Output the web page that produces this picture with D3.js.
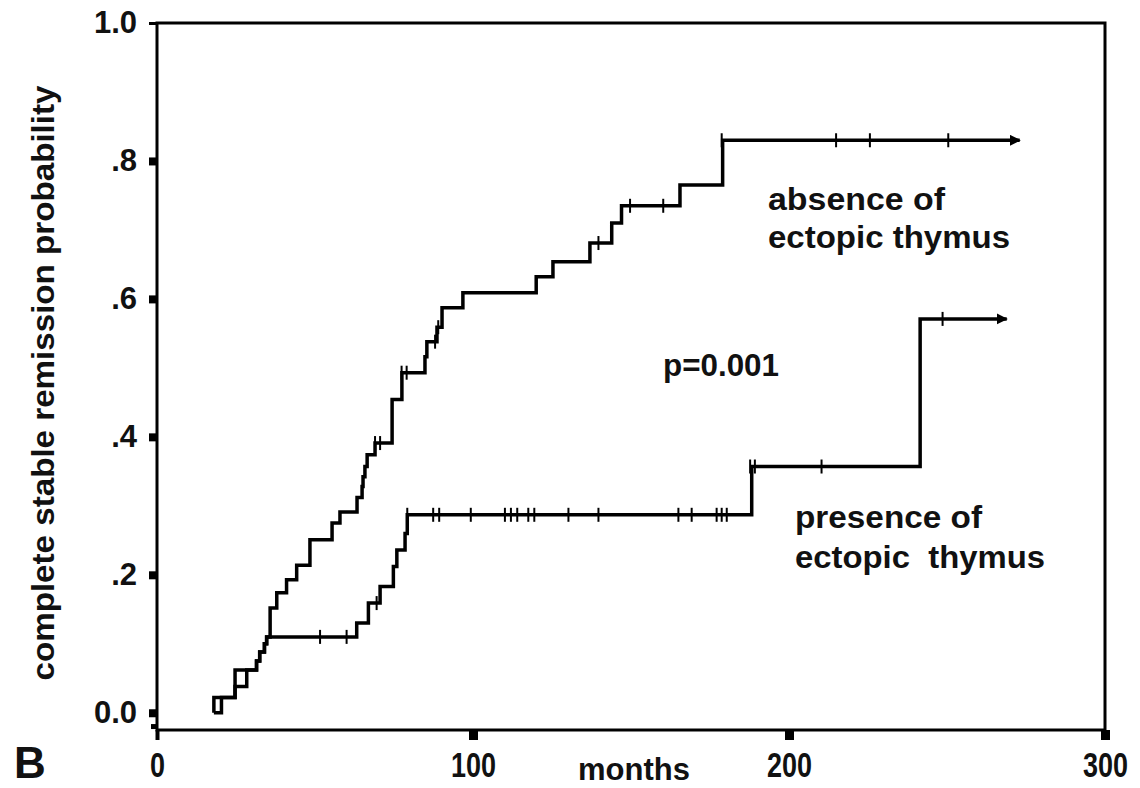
<!DOCTYPE html>
<html>
<head>
<meta charset="utf-8">
<script src="https://cdn.jsdelivr.net/npm/d3@7"></script>
<style>
  body { margin: 0; background: #fff; }
  svg text { font-family: "Liberation Sans", Arial, sans-serif; font-weight: bold; fill: #111; }
</style>
</head>
<body>
<svg id="chart"></svg>
<script>
// step points [months, probability]
const absenceSteps = [[18, 0], [18, 0.022], [24.7, 0.062], [31.5, 0.075], [32.5, 0.088], [34, 0.1], [34.7, 0.11],
  [35.8, 0.152], [37.9, 0.174], [41, 0.193], [44.2, 0.214], [48.4, 0.251], [55.4, 0.275], [57.9, 0.291],
  [63.3, 0.312], [64.9, 0.328], [65.2, 0.342], [65.8, 0.357], [66.5, 0.374], [69, 0.391], [74.4, 0.454],
  [77.5, 0.493], [84.8, 0.516], [85.4, 0.538], [88.6, 0.559], [90.2, 0.587], [96.8, 0.609], [120, 0.632],
  [125.3, 0.654], [137, 0.681], [143.9, 0.71], [147, 0.735], [165.5, 0.765], [179, 0.83], [273, 0.83]]
const presenceSteps = [[18, 0], [20.4, 0.022], [24.7, 0.038], [28.4, 0.062], [31.5, 0.075], [32.5, 0.088],
  [34, 0.1], [34.7, 0.11], [63.2, 0.13], [66.9, 0.159], [70.6, 0.183], [74.8, 0.212], [75.9, 0.236],
  [78.5, 0.26], [79.2, 0.287], [188.2, 0.357], [241.5, 0.571], [268.9, 0.571]]

// censored cases (small vertical marks)
const absenceCensor = [[69, 0.391], [70.6, 0.391], [77.4, 0.493], [79, 0.493], [88, 0.538], [89, 0.559],
  [139.7, 0.681], [149.7, 0.735], [160.2, 0.735], [178.7, 0.83], [214.9, 0.83], [225.6, 0.83], [250.4, 0.83]]
const presenceCensor = [[51.6, 0.11], [60, 0.11], [69.5, 0.159], [79.2, 0.287], [87.4, 0.287], [89.3, 0.287],
  [99.3, 0.287], [110.1, 0.287], [112, 0.287], [114, 0.287], [117.5, 0.287], [119.4, 0.287], [130.2, 0.287],
  [139.7, 0.287], [165, 0.287], [169.2, 0.287], [177.1, 0.287], [178.7, 0.287], [180.3, 0.287],
  [187.7, 0.357], [189.2, 0.357], [210.3, 0.357], [248.6, 0.571]]

const xTicks = [0, 100, 200, 300]
const yTicks = [0, 0.2, 0.4, 0.6, 0.8, 1.0]
const yTickLabels = ['0.0', '.2', '.4', '.6', '.8', '1.0']

const width = 1140
const height = 788

const svg = d3.select('#chart')
  .attr('width', width)
  .attr('height', height)

const x = d3.scaleLinear().domain([0, 300]).range([157, 1105])
const y = d3.scaleLinear().domain([-0.025, 1]).range([730, 23])

// frame
svg.append('rect')
  .attr('x', x(0)).attr('y', y(1))
  .attr('width', x(300) - x(0)).attr('height', y(-0.025) - y(1))
  .attr('fill', 'none').attr('stroke', '#000').attr('stroke-width', 3)

////////////////////////////// AXES //////////////////////////////
const yAxis = svg.append('g')
  .attr('transform', `translate(${x(0)},0)`)
  .call(d3.axisLeft(y).tickValues(yTicks).tickSize(8).tickPadding(12)
    .tickFormat((d, i) => yTickLabels[i]))
yAxis.select('.domain').remove()
yAxis.selectAll('.tick line')
  .attr('stroke', '#000')
  .attr('stroke-width', d => d === 1 ? 3 : 8)
yAxis.selectAll('.tick text')
  .attr('font-size', 31)
  .attr('font-family', null)
  .attr('fill', null)

const xAxis = svg.append('g')
  .attr('transform', `translate(0,${y(-0.025)})`)
  .call(d3.axisBottom(x).tickValues(xTicks).tickSize(10).tickPadding(12))
xAxis.select('.domain').remove()
xAxis.selectAll('.tick line')
  .attr('stroke', '#000')
  .attr('stroke-width', d => d === 0 ? 4 : 9)
xAxis.selectAll('.tick text')
  .attr('font-size', 35)
  .attr('font-family', null)
  .attr('fill', null)
  .attr('textLength', d => d === 0 ? 15 : 45)
  .attr('lengthAdjust', 'spacingAndGlyphs')

// extra stub under 0.0
svg.append('line')
  .attr('x1', x(0) - 6).attr('x2', x(0))
  .attr('y1', y(-0.02)).attr('y2', y(-0.02))
  .attr('stroke', '#000').attr('stroke-width', 5)

////////////////////////////// CURVES //////////////////////////////
const line = d3.line()
  .x(d => x(d[0]))
  .y(d => y(d[1]))
  .curve(d3.curveStepAfter)

svg.append('defs').append('marker')
  .attr('id', 'arrow')
  .attr('viewBox', '0 0 10 10')
  .attr('refX', 9).attr('refY', 5)
  .attr('markerWidth', 3.2).attr('markerHeight', 3.2)
  .attr('markerUnits', 'strokeWidth')
  .attr('orient', 'auto')
  .append('path')
  .attr('d', 'M0,0 L10,5 L0,10 Z')
  .attr('fill', '#000')

const curves = [absenceSteps, presenceSteps]
svg.selectAll('.km')
  .data(curves)
  .join('path')
  .attr('class', 'km')
  .attr('d', line)
  .attr('fill', 'none')
  .attr('stroke', '#000')
  .attr('stroke-width', 3.5)
  .attr('marker-end', 'url(#arrow)')

svg.selectAll('.censor')
  .data(absenceCensor.concat(presenceCensor))
  .join('line')
  .attr('class', 'censor')
  .attr('x1', d => x(d[0])).attr('x2', d => x(d[0]))
  .attr('y1', d => y(d[1]) - 7).attr('y2', d => y(d[1]) + 7)
  .attr('stroke', '#000')
  .attr('stroke-width', 2)

////////////////////////////// LABELS //////////////////////////////
svg.append('text')
  .attr('transform', 'translate(54,383) rotate(-90)')
  .attr('text-anchor', 'middle')
  .attr('font-size', 32)
  .attr('textLength', 595)
  .attr('lengthAdjust', 'spacingAndGlyphs')
  .text('complete stable remission probability')

svg.append('text')
  .attr('x', 634).attr('y', 780)
  .attr('text-anchor', 'middle')
  .attr('font-size', 31)
  .text('months')

svg.append('text')
  .attr('x', 14).attr('y', 778)
  .attr('font-size', 44)
  .text('B')

const notes = [
  { t: 'absence of', x: 768, y: 210, w: 177 },
  { t: 'ectopic thymus', x: 768, y: 248, w: 242 },
  { t: 'p=0.001', x: 663, y: 376, w: 116 },
  { t: 'presence of', x: 795, y: 528, w: 187 },
  { t: 'ectopic  thymus', x: 795, y: 568, w: 250 }
]
svg.selectAll('.note')
  .data(notes)
  .join('text')
  .attr('class', 'note')
  .attr('x', d => d.x).attr('y', d => d.y)
  .attr('font-size', 31)
  .style('white-space', 'pre')
  .attr('textLength', d => d.w)
  .attr('lengthAdjust', 'spacingAndGlyphs')
  .text(d => d.t)
</script>
</body>
</html>
